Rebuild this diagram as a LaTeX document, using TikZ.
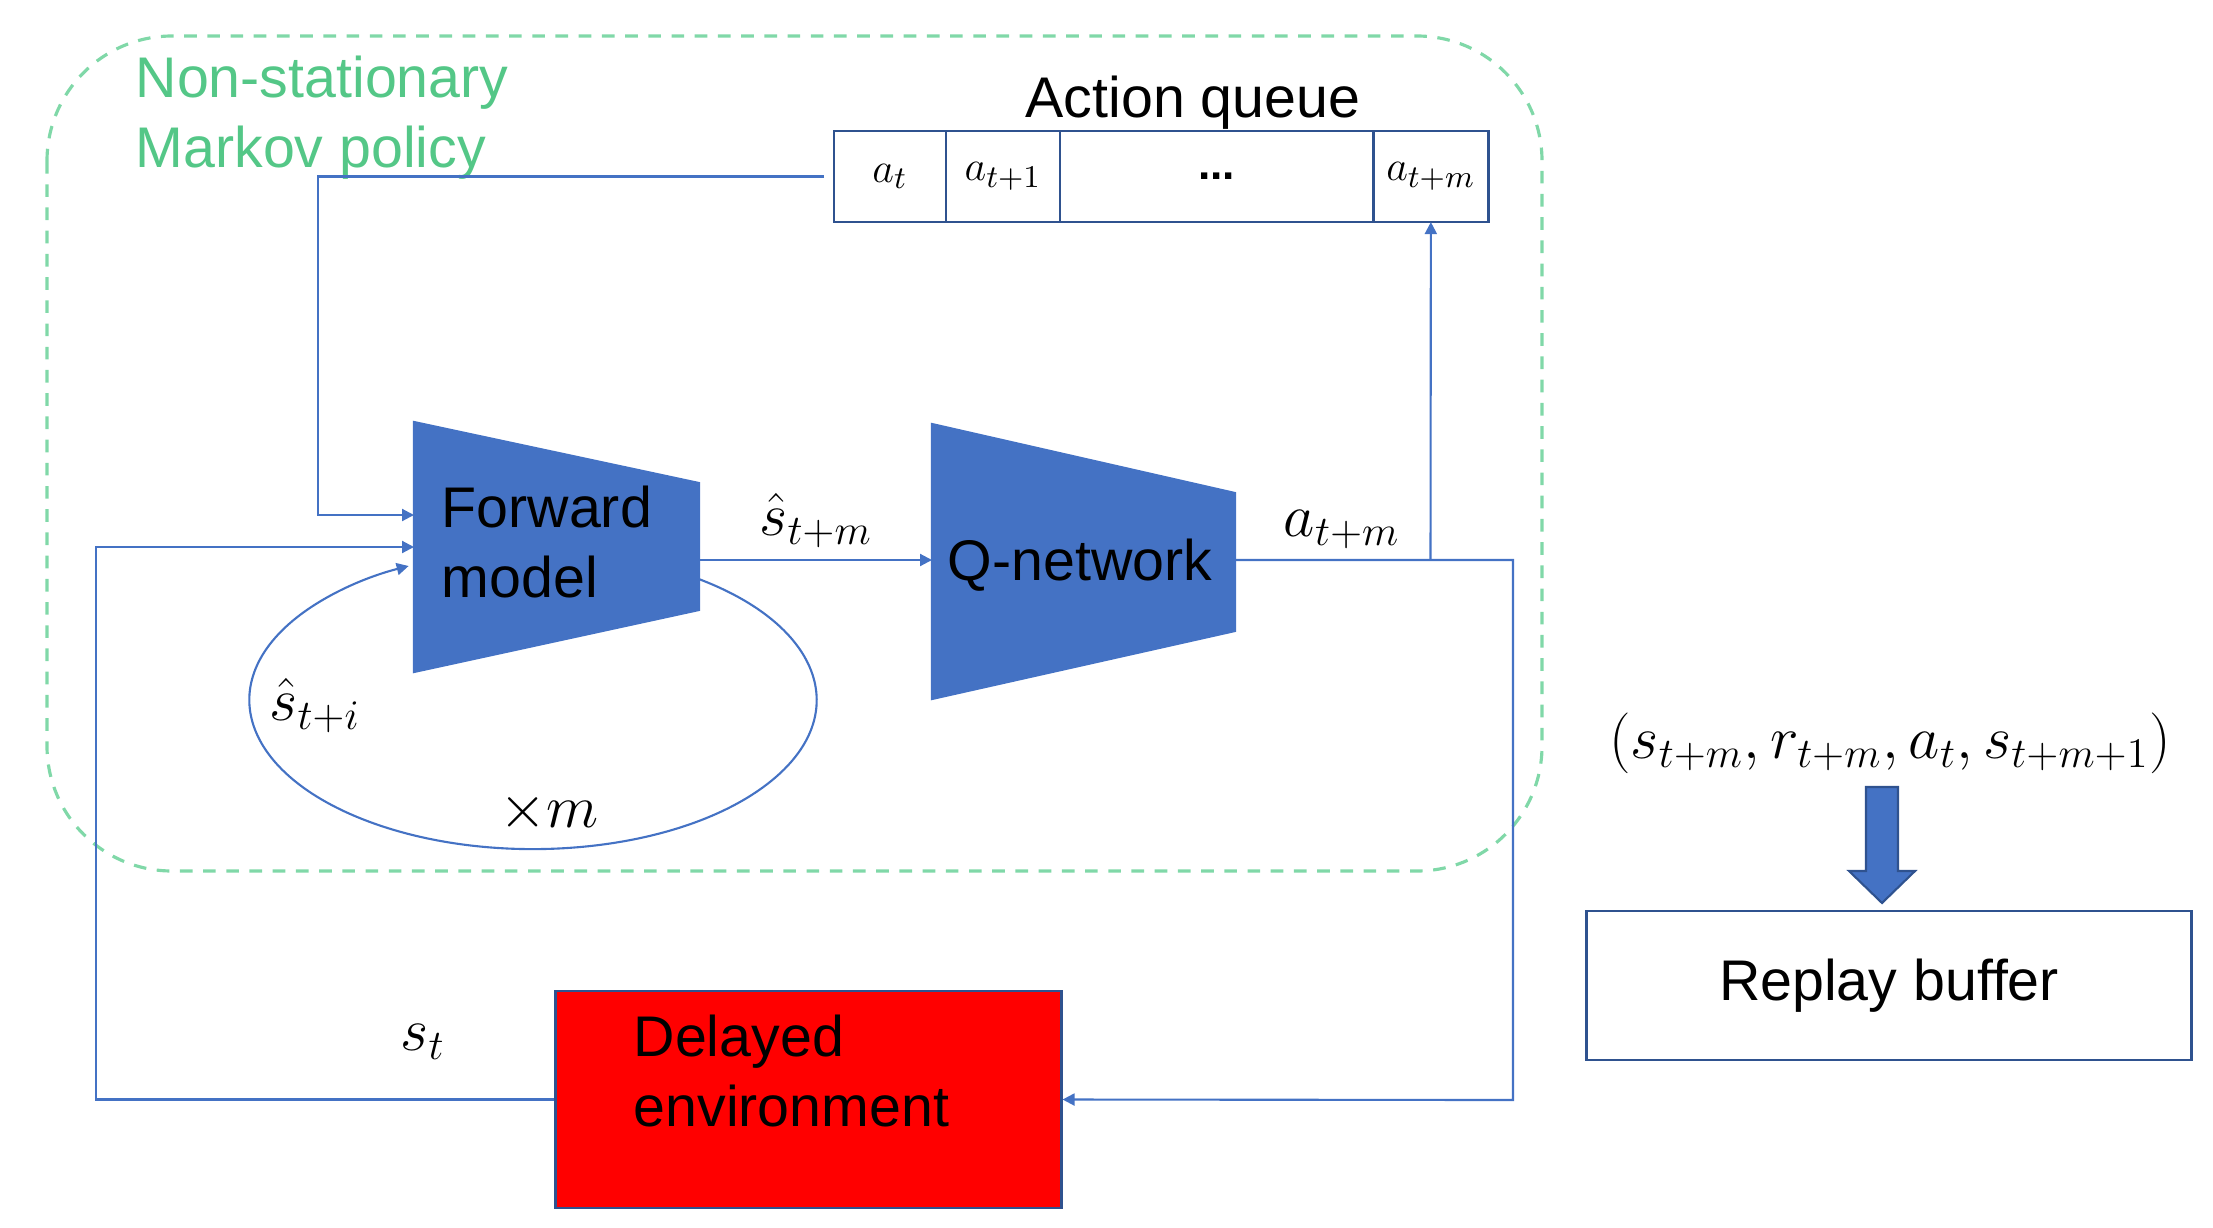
\documentclass[tikz,border=0pt]{standalone}
\usepackage{fontspec}
\setmainfont{Liberation Sans}
\definecolor{netblue}{RGB}{68,114,196}
\definecolor{edgeblue}{RGB}{47,82,143}
\definecolor{policygreen}{RGB}{84,199,135}
\definecolor{dashgreen}{RGB}{128,216,168}
\definecolor{envred}{RGB}{255,0,0}
\usetikzlibrary{arrows.meta, positioning, calc}
\newcommand{\diagtext}{\fontsize{16.3}{19.9}\selectfont}
\newcommand{\diagmath}{\fontsize{17.5}{20}\selectfont}
\newcommand{\cellmath}{\fontsize{12.6}{15}\selectfont}

\begin{document}
\begin{tikzpicture}[x=0.01cm, y=-0.01cm,
  link/.style={draw=netblue, line width=0.6pt},
  headed/.style={-{Triangle[length=3.4pt,width=3.4pt]}},
  cell/.style={draw=edgeblue, line width=0.7pt, inner sep=0pt, outer sep=0pt,
    minimum height=0.91cm, anchor=north west, font=\cellmath},
  lbl/.style={inner sep=0pt, font=\diagmath},
  txt/.style={inner sep=0pt, font=\diagtext, align=left},
  net/.style={fill=netblue, draw=netblue, line width=0.6pt}]
  \useasboundingbox (0,0) rectangle (2213,1227);

  % Policy region
  \draw[dashgreen, line width=0.9pt, dash pattern=on 3.6pt off 3pt, rounded corners=1.25cm]
    (47,36) rectangle (1542,871);
  \node[txt, text=policygreen, anchor=west] (policy) at (135,117.5) {Non-stationary\\Markov policy};

  % Action queue
  \node[txt, anchor=base] (qlabel) at (1193,117) {Action queue};
  \node[cell, minimum width=1.12cm] (q0) at (834,131) {$a_t$};
  \node[cell, minimum width=1.14cm, right=0pt of q0] (q1) {$a_{t+1}$};
  \node[cell, minimum width=3.13cm, right=0pt of q1, font=\cellmath\bfseries] (q2) {...};
  \node[cell, minimum width=1.15cm, right=0pt of q2] (q3) {$a_{t+m}$};

  % Rollout loop (behind the forward model)
  \draw[link, headed] ([shift={(533,700)}] 55:2.835cm and 1.49cm)
    arc[start angle=55, end angle=-244, x radius=2.835cm, y radius=1.49cm];

  % Forward model
  \path[net] (414,422) -- (699,483) -- (699,610) -- (414,672) -- cycle;
  \node[txt, anchor=west] (fwd) at (441,542) {Forward\\model};
  \coordinate (fwdA) at (414,515);
  \coordinate (fwdB) at (414,547);
  \coordinate (fwdOut) at (699,560);

  % Q-network
  \path[net] (932,424) -- (1235,493) -- (1235,631) -- (932,699) -- cycle;
  \node[txt, anchor=base] (qnet) at (1080,580) {Q-network};
  \coordinate (qIn) at (932,560);
  \coordinate (qOut) at (1235,560);
  \coordinate (split) at (1430.5,560);

  % Environment
  \node[draw=edgeblue, fill=envred, line width=0.8pt, minimum width=5.05cm,
    minimum height=2.17cm, inner sep=0pt] (env) at (808.5,1099.5) {};
  \node[txt, anchor=west] (envtxt) at (633,1071) {Delayed\\environment};

  % Replay buffer
  \node[lbl, anchor=base] (tuple) at (1890,758) {$(s_{t+m}, r_{t+m}, a_t, s_{t+m+1})$};
  \node[draw=edgeblue, line width=0.8pt, minimum width=6.04cm, minimum height=1.49cm,
    font=\diagtext] (replay) at (1889,985.5) {Replay buffer};
  \path[draw=edgeblue, fill=netblue, line width=0.6pt]
    (1866,787) -- (1898,787) -- (1898,871) -- (1915,871) -- (1882,903)
    -- (1849,871) -- (1866,871) -- cycle;

  % Connectors
  \draw[link, headed, shorten <=0.1cm] (q0.west) -| (318,515) -- (fwdA);
  \draw[link, headed] (env.west) -| (96,547) -- (fwdB);
  \draw[link, headed] (fwdOut) -- (qIn);
  \draw[link, headed] (qOut) -| (1513,1100) -- (env.east);
  \draw[link, headed] (split) -- (q3.south);

  % Labels
  \node[lbl, anchor=base] (shatm) at (816,535) {$\hat{s}_{t+m}$};
  \node[lbl, anchor=base] (atm) at (1342,536) {$a_{t+m}$};
  \node[lbl, anchor=base] (shati) at (315,720) {$\hat{s}_{t+i}$};
  \node[lbl, anchor=base] (times) at (549,827) {$\times m$};
  \node[lbl, anchor=base] (st) at (423,1050) {$s_t$};
\end{tikzpicture}
\end{document}
